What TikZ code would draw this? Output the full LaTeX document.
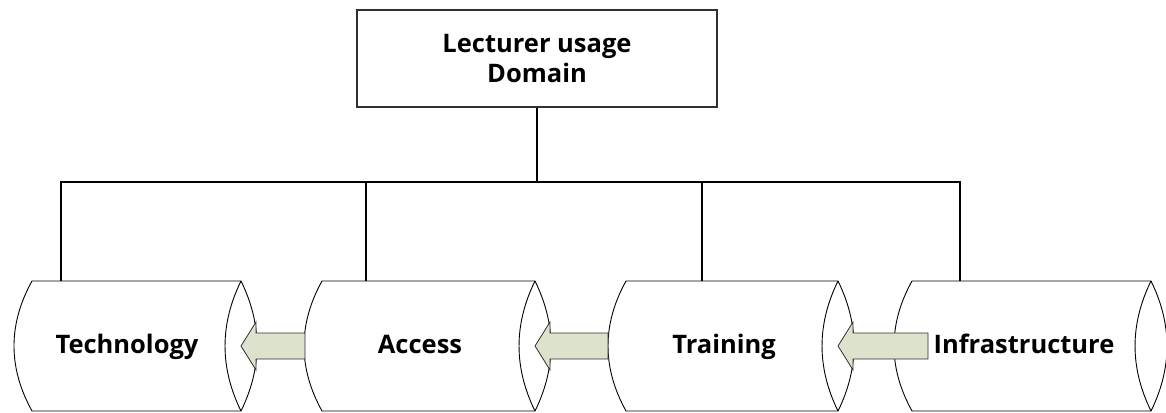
\documentclass[tikz,border=0pt]{standalone}
\usepackage{fontspec}
\newfontfamily\labfont{Open Sans}
\definecolor{arrowfill}{HTML}{DCE2CB}
\definecolor{edgegray}{HTML}{303030}
\tikzset{
  lab/.style={font=\labfont\bfseries\fontsize{25.5}{30}\selectfont, text=black, inner sep=0pt, align=center},
  cyllab/.style={lab, text height=18pt, text depth=0pt},
  topbox/.style={draw=edgegray, line width=1.3pt, fill=white, minimum width=360pt, minimum height=97pt, inner sep=0pt},
  bus/.style={draw=black, line width=1.4pt},
  cyl/.style={draw=black, line width=0.9pt, fill=white},
  flow/.style={draw=edgegray, line width=0.8pt, fill=arrowfill, line join=miter},
}
\newcommand{\mycyl}[3]{% left corner x, right corner x, name
  \path[cyl] (#1,281) -- (#2,281)
     .. controls ({#2+21.3},324.3) and ({#2+21.3},367.7) .. (#2,411)
     -- (#1,411)
     .. controls ({#1-24},367.7) and ({#1-24},324.3) .. (#1,281) -- cycle;
  \draw[line width=0.9pt] (#2,281) .. controls ({#2-21.3},324.3) and ({#2-21.3},367.7) .. (#2,411);
  \coordinate (#3) at (#1,281);
}
\newcommand{\myarrow}[3]{% tip x, end x, name
  \path[flow] (#1,346) -- ({#1+15},322) -- ({#1+15},333) -- (#2,333) -- (#2,359)
     -- ({#1+15},359) -- ({#1+15},370) -- cycle;
  \coordinate (#3) at (#1,346);
}
\begin{document}
\begin{tikzpicture}[x=1pt,y=-1pt]
\useasboundingbox (0,0) rectangle (1166,412);
% top box
\node[topbox] (top) at (537,58.5) {};
\node[lab] (toptxt) at (537,58.5) {Lecturer usage\\Domain};
% cylinders
\mycyl{32}{241}{c1}
\mycyl{322}{535}{c2}
\mycyl{626}{838}{c3}
\mycyl{912}{1151}{c4}
% connectors
\coordinate (bus) at (537,182);
\coordinate (d1) at (61,281);
\coordinate (d2) at (366,281);
\coordinate (d3) at (702,281);
\coordinate (d4) at (960,281);
\draw[bus] (top.south) -- (bus);
\draw[bus] (bus) -| (d1);
\draw[bus] (bus) -| (d2);
\draw[bus] (bus) -| (d3);
\draw[bus] (bus) -| (d4);
% arrows
\myarrow{241}{305}{a1}
\myarrow{535}{608}{a2}
\myarrow{838}{928}{a3}
% labels
\node[cyllab] (t1) at (127,344.5) {Technology};
\node[cyllab] (t2) at (420,344.5) {Access};
\node[cyllab] (t3) at (724,344.5) {Training};
\node[cyllab] (t4) at (1024,344.5) {Infrastructure};
\end{tikzpicture}
\end{document}
